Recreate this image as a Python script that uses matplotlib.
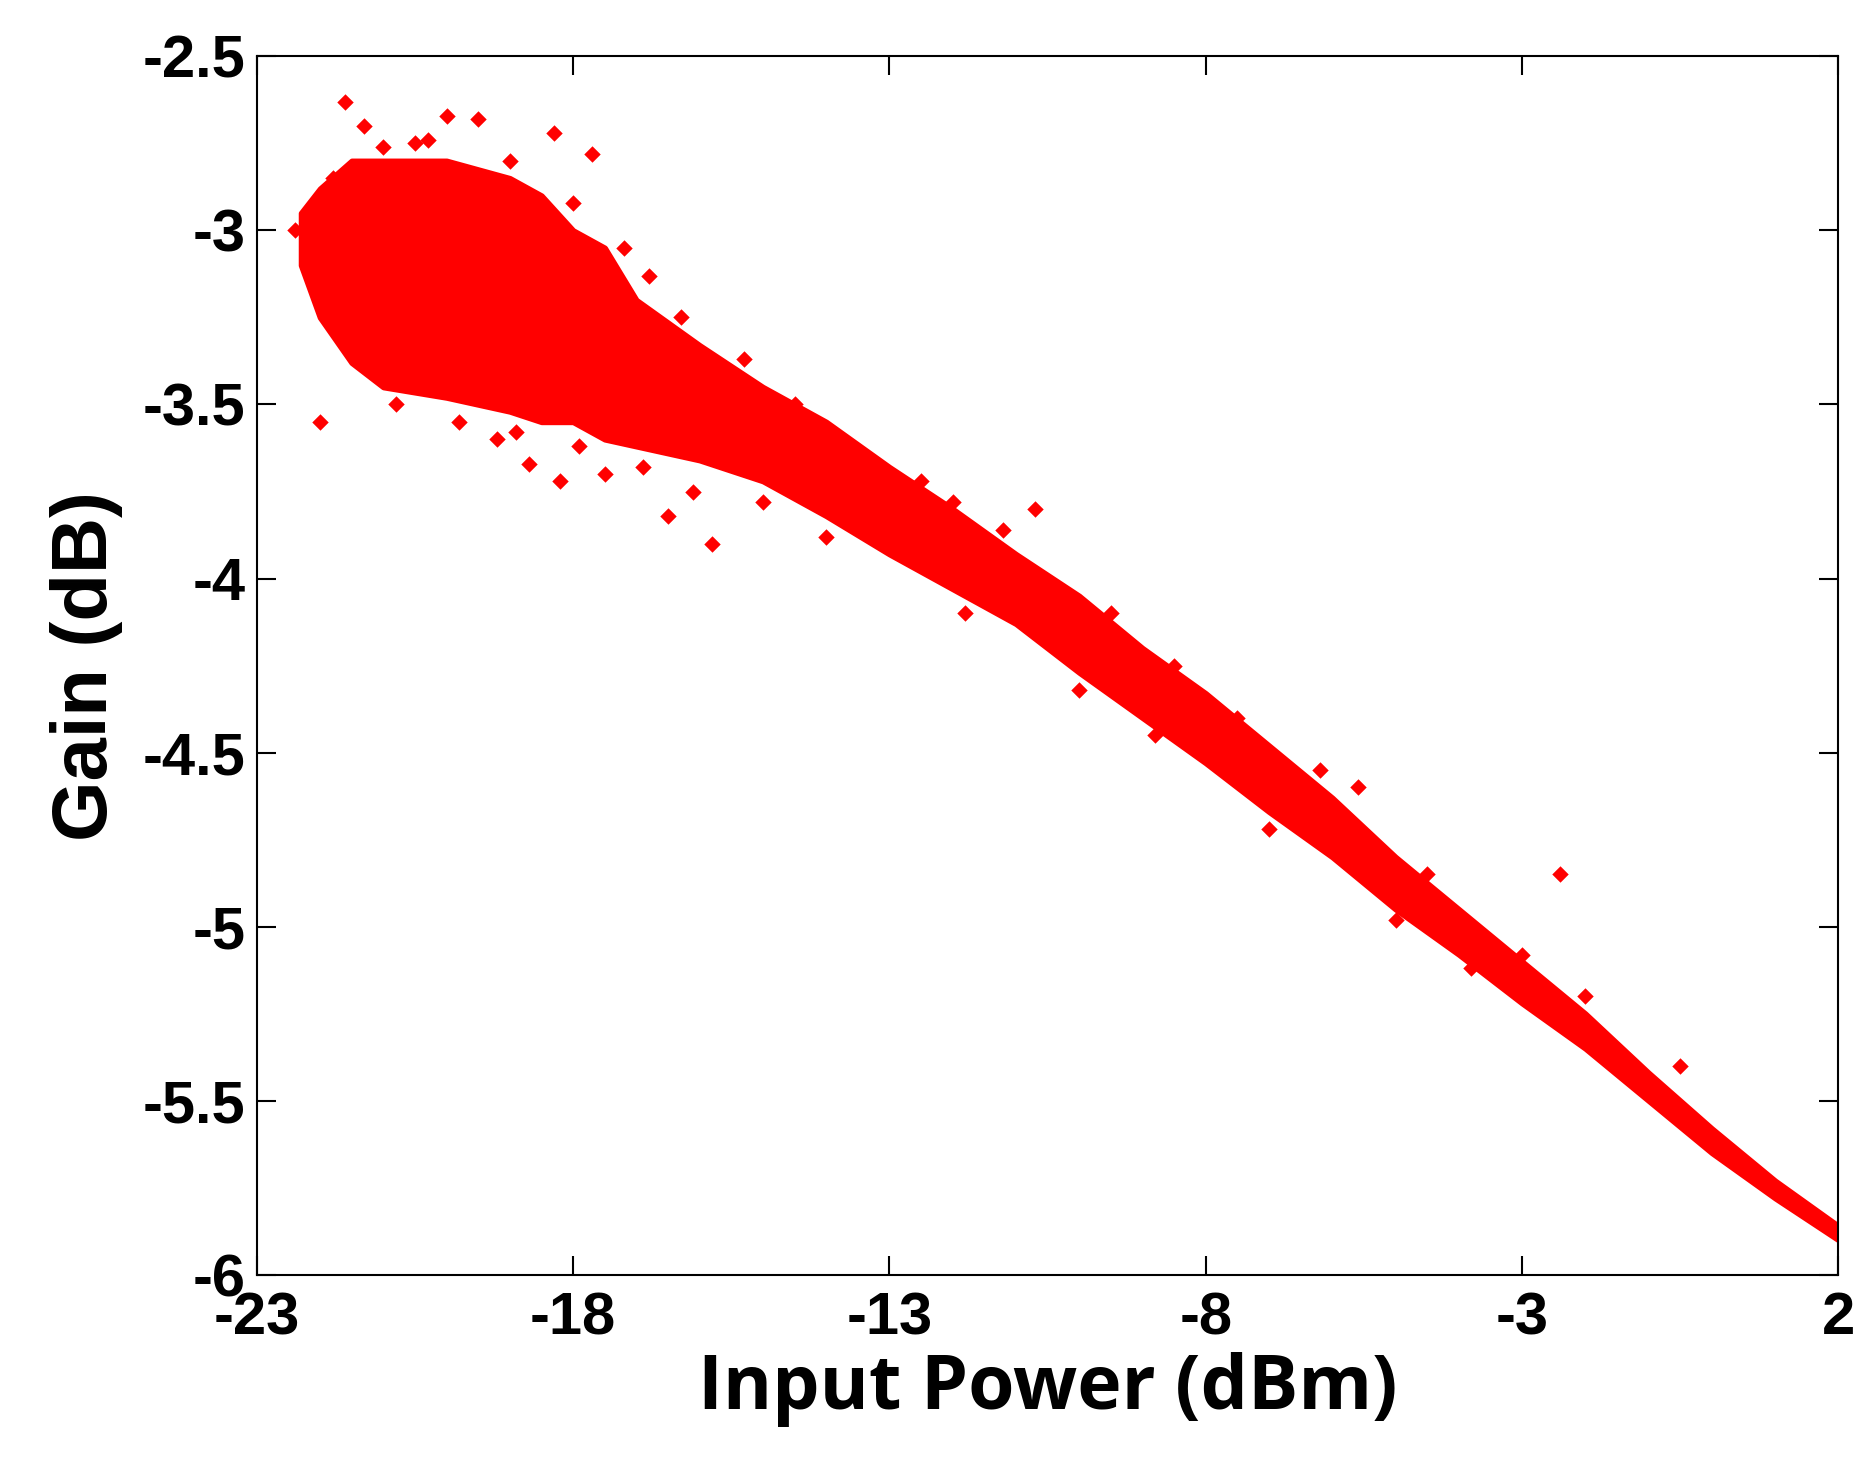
import matplotlib
matplotlib.use('Agg')
import matplotlib.pyplot as plt

# envelope of the dense point cloud
band_x = [-22.3, -22.0, -21.5, -21, -20, -19, -18.5, -18, -17.5, -17, -16, -15, -14, -13, -12, -11, -10,
          -9, -8, -7, -6, -5, -4, -3, -2, -1, 0, 1, 2]
band_hi = [-2.95, -2.88, -2.8, -2.8, -2.8, -2.85, -2.9, -3.0, -3.05, -3.2, -3.33, -3.45, -3.55, -3.68, -3.8,
           -3.93, -4.05, -4.2, -4.33, -4.48, -4.63, -4.8, -4.95, -5.1, -5.25, -5.42, -5.58, -5.73, -5.86]
band_lo = [-3.1, -3.25, -3.38, -3.45, -3.48, -3.52, -3.55, -3.55, -3.6, -3.62, -3.66, -3.72, -3.82, -3.93, -4.03,
           -4.13, -4.27, -4.4, -4.53, -4.67, -4.8, -4.95, -5.08, -5.22, -5.35, -5.5, -5.65, -5.78, -5.9]

# scattered points outside the dense band
out_x = [-22.0, -21.6, -21.3, -20.0, -19.5, -18.3, -17.7, -16.8, -19.2, -18.7, -16.5, -15.8,
         -16.1, -17.5, -18.2, -13.5, -10.7, -5.6, -2.4, -3.0, -20.5, -21.8, -22.4, -12.0,
         -21.0, -20.3, -19.0, -18.0, -17.2, -16.3, -15.3, -14.5, -12.5, -11.2, -9.5, -8.5,
         -7.5, -6.2, -4.5, -2.0, -0.5, -20.8, -19.8, -18.9, -17.9, -16.9, -15.0, -14.0,
         -11.8, -10.0, -8.8, -7.0, -5.0, -3.8]
out_y = [-3.55, -2.63, -2.7, -2.67, -2.68, -2.72, -2.78, -3.13, -3.6, -3.67, -3.82, -3.9,
         -3.75, -3.7, -3.72, -3.63, -3.8, -4.6, -4.85, -5.08, -2.75, -2.85, -3.0, -3.78,
         -2.76, -2.74, -2.8, -2.92, -3.05, -3.25, -3.37, -3.5, -3.72, -3.86, -4.1, -4.25,
         -4.4, -4.55, -4.85, -5.2, -5.4, -3.5, -3.55, -3.58, -3.62, -3.68, -3.78, -3.88,
         -4.1, -4.32, -4.45, -4.72, -4.98, -5.12]

plt.rcParams['font.family'] = ['Liberation Sans', 'DejaVu Sans']
plt.rcParams['axes.unicode_minus'] = False
fig = plt.figure(figsize=(18.74, 14.84), dpi=100)
ax = fig.add_axes([0.137, 0.141, 0.844, 0.821])

ax.fill_between(band_x, band_lo, band_hi, color='red', linewidth=4, edgecolor='red')
ax.scatter(out_x, out_y, marker='D', s=70, color='red', linewidths=0)

ax.set_xlim(-23, 2)
ax.set_ylim(-6, -2.5)
ax.set_xticks([-23, -18, -13, -8, -3, 2])
ax.set_yticks([-6, -5.5, -5, -4.5, -4, -3.5, -3, -2.5])
ax.set_yticklabels(['-6', '-5.5', '-5', '-4.5', '-4', '-3.5', '-3', '-2.5'])
ax.tick_params(direction='in', length=14, width=1.5, labelsize=43, top=True, right=True, pad=8)
ax.tick_params(axis='x', pad=12)
for lbl in ax.get_xticklabels() + ax.get_yticklabels():
    lbl.set_fontweight('bold')
for s in ax.spines.values():
    s.set_linewidth(1.5)

ax.set_xlabel('Input Power (dBm)', fontsize=54, fontweight='bold', family=['Open Sans', 'DejaVu Sans'])
ax.set_ylabel('Gain (dB)', fontsize=56, fontweight='bold', labelpad=14)

fig.savefig('out.png', dpi=100)
